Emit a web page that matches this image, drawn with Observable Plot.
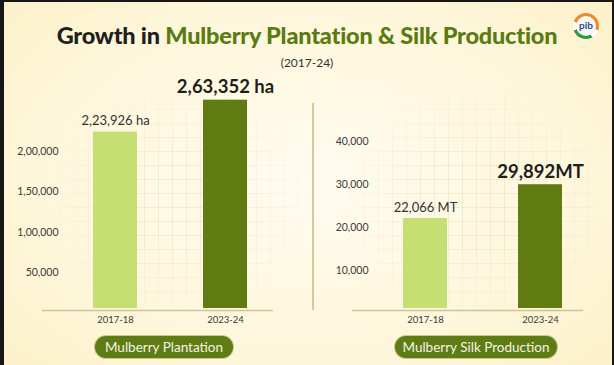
<!DOCTYPE html>
<html>
<head>
<meta charset="utf-8">
<script src="https://cdn.jsdelivr.net/npm/d3@7"></script>
<script src="https://cdn.jsdelivr.net/npm/@observablehq/plot@0.6"></script>
<style>
  html, body { margin: 0; padding: 0; background: #141414; }
  #card {
    position: relative; width: 614px; height: 365px; overflow: hidden;
    background: radial-gradient(ellipse 70% 75% at 50% 50%, #fffcf0 0%, #fef7dc 60%, #fcf0c8 100%);
    font-family: Lato, "Open Sans", sans-serif;
  }
  #frame {
    position: absolute; left: 0; top: 0; width: 614px; height: 365px; box-sizing: border-box;
    border-left: 4px solid #161616; border-top: 2px solid #161616; border-right: 2px solid #161616;
    pointer-events: none; z-index: 10;
  }
  .grid {
    position: absolute; top: 95px; height: 215px;
    background-image:
      linear-gradient(to right, rgba(190,175,130,0.18) 1px, transparent 1px),
      linear-gradient(to bottom, rgba(190,175,130,0.18) 1px, transparent 1px);
    background-size: 14px 14px;
    -webkit-mask-image: radial-gradient(ellipse 60% 60% at 50% 50%, #000 30%, transparent 100%);
    mask-image: radial-gradient(ellipse 60% 60% at 50% 50%, #000 30%, transparent 100%);
  }
  #title {
    position: absolute; left: 0; width: 614px; top: 21px; text-align: center;
    font-size: 23.5px; font-weight: 900; color: #1f1f1f; letter-spacing: -0.2px; z-index: 5;
  }
  #title .g { color: #5a7a12; }
  #subtitle {
    position: absolute; left: 0; width: 614px; top: 55px; text-align: center;
    font-size: 12px; color: #333; z-index: 5;
  }
  .plot { position: absolute; top: 0; z-index: 3; }
  #divider { position: absolute; left: 312px; top: 103px; width: 1.5px; height: 207px; background: #d3c99a; z-index: 2; }
  .pill {
    position: absolute; top: 336px; height: 22px; line-height: 22px; border-radius: 11px;
    background: #5f7c14; color: #f3f5e4; font-size: 13.5px; text-align: center; z-index: 4;
    box-shadow: 0 0 0 1px rgba(140,160,70,0.5);
  }
  #logo {
    position: absolute; left: 573px; top: 13px; width: 26px; height: 26px; border-radius: 50%;
    background: conic-gradient(#f08a2c 0deg 110deg, #ffffff 110deg 150deg, #2e9b3f 150deg 250deg, #ffffff 250deg 290deg, #f08a2c 290deg 360deg);
    z-index: 5;
  }
  #logo span {
    position: absolute; left: 3px; top: 3px; width: 20px; height: 20px; border-radius: 50%;
    background: #f7f7f7; color: #2b4d8e; font-size: 10px; font-weight: 700; text-align: center; line-height: 19px;
  }
</style>
</head>
<body>
<div id="card">
  <div class="grid" style="left:60px;width:240px;"></div>
  <div class="grid" style="left:350px;width:250px;"></div>
  <div id="title">Growth in <span class="g">Mulberry Plantation &amp; Silk Production</span></div>
  <div id="subtitle">(2017-24)</div>
  <div id="logo"><span>pib</span></div>
  <div id="divider"></div>
  <div id="left" class="plot" style="left:0px;"></div>
  <div id="right" class="plot" style="left:310px;"></div>
  <div class="pill" style="left:95px;width:138px;">Mulberry Plantation</div>
  <div class="pill" style="left:395px;width:162px;">Mulberry Silk Production</div>
  <div id="frame"></div>
</div>
<script>
// ---- data ----
const years = ["2017-18", "2023-24"];
const plantationValues = [223926, 263352];           // hectares
const plantationLabels = ["2,23,926 ha", "2,63,352 ha"];
const silkValues = [22066, 29892];                   // MT
const silkLabels = ["22,066 MT", "29,892MT"];
const plantationTicks = [50000, 100000, 150000, 200000];
const plantationTickLabels = ["50,000", "1,00,000", "1,50,000", "2,00,000"];
const silkTicks = [10000, 20000, 30000, 40000];
const silkTickLabels = ["10,000", "20,000", "30,000", "40,000"];
const barColors = ["#c6df72", "#5f7b12"];

function makeChart({values, labels, ticks, tickLabels, yMax, marginTop, width, marginLeft, marginRight, padIn, padOut, align}) {
  const rows = years.map((y, i) => ({year: y, value: values[i], label: labels[i], idx: i}));
  const fmt = new Map(ticks.map((t, i) => [t, tickLabels[i]]));
  return Plot.plot({
    width, height: 330,
    marginTop, marginBottom: 17, marginLeft, marginRight,
    style: {background: "transparent", fontFamily: "Lato, 'Open Sans', sans-serif", overflow: "visible"},
    x: {domain: years, paddingInner: padIn, paddingOuter: padOut, align, label: null},
    y: {domain: [0, yMax], label: null},
    marks: [
      Plot.barY(rows, {x: "year", y: "value", fill: d => barColors[d.idx], insetBottom: 5}),
      Plot.ruleY([0], {stroke: "#cfc296", strokeWidth: 1.5, dy: -3}),
      Plot.axisY({ticks, tickFormat: d => fmt.get(d), tickSize: 0, tickPadding: 0, dx: 16, fontSize: 10.5, fill: "#3a3a3a", label: null}),
      Plot.axisX({tickSize: 0, tickPadding: 3, fontSize: 9.5, fill: "#3a3a3a", label: null}),
      Plot.text(rows.filter(d => d.idx === 0), {x: "year", y: "value", text: "label", dy: -11, fontSize: 13, fill: "#333"}),
      Plot.text(rows.filter(d => d.idx === 1), {x: "year", y: "value", text: "label", dy: -13, fontSize: 18.5, fontWeight: "bold", fill: "#1e1e1e"})
    ]
  });
}

document.getElementById("left").append(makeChart({
  values: plantationValues, labels: plantationLabels, ticks: plantationTicks, tickLabels: plantationTickLabels,
  yMax: 200000, marginTop: 151, width: 300, marginLeft: 42, marginRight: 27, padIn: 0.6, padOut: 0.35, align: 0.66
}));
document.getElementById("right").append(makeChart({
  values: silkValues, labels: silkLabels, ticks: silkTicks, tickLabels: silkTickLabels,
  yMax: 40000, marginTop: 140.7, width: 304, marginLeft: 42, marginRight: 31, padIn: 0.62, padOut: 0.306, align: 0.70
}));
</script>
</body>
</html>
